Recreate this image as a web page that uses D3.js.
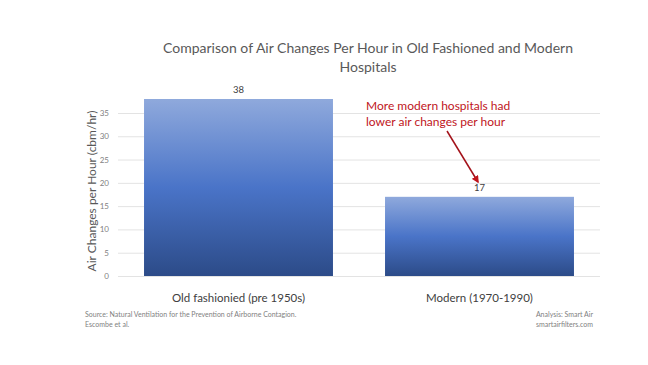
<!DOCTYPE html>
<html><head><meta charset="utf-8">
<script src="https://cdn.jsdelivr.net/npm/d3@7"></script>
<style>body{margin:0;background:#fff}svg{display:block}text{font-family:Lato,"Open Sans",sans-serif}</style>
</head><body><svg id="c" width="648" height="365"></svg>
<script>
const categories = ["Old fashionied (pre 1950s)", "Modern (1970-1990)"];
const values = [38, 17];
const yTicks = [0, 5, 10, 15, 20, 25, 30, 35];
const titleLines = ["Comparison of Air Changes Per Hour in Old Fashioned and Modern", "Hospitals"];
const yTitle = "Air Changes per Hour (cbm/hr)";
const annotation = ["More modern hospitals had", "lower air changes per hour"];
const sourceLines = ["Source: Natural Ventilation for the Prevention of Airborne Contagion.", "Escombe et al."];
const analysisLines = ["Analysis: Smart Air", "smartairfilters.com"];

const svg = d3.select("#c");
const m = {l:118, r:600, t:99, b:276};
const x = d3.scaleBand().domain(categories).range([m.l, m.r]).paddingInner(0.216).paddingOuter(0.108);
const y = d3.scaleLinear().domain([0, 38]).range([m.b, m.t]);

const defs = svg.append("defs");
const g = defs.append("linearGradient").attr("id","bg").attr("x1",0).attr("y1",0).attr("x2",0).attr("y2",1);
g.append("stop").attr("offset","0%").attr("stop-color","#8fa9dc");
g.append("stop").attr("offset","50%").attr("stop-color","#4a74c8");
g.append("stop").attr("offset","100%").attr("stop-color","#2c4b88");
const mk = defs.append("marker").attr("id","ah").attr("viewBox","0 0 10 10").attr("refX",8).attr("refY",5)
  .attr("markerWidth",5).attr("markerHeight",5).attr("orient","auto");
mk.append("path").attr("d","M0,0L10,5L0,10z").attr("fill","#c0151c");

// title
svg.append("g").selectAll("text").data(titleLines).join("text")
  .attr("x",368).attr("y",(d,i)=>53+i*19).attr("text-anchor","middle")
  .attr("font-size",14).attr("fill","#595959").text(d=>d);

// grid + axis
const ya = d3.axisLeft(y).tickValues(yTicks).tickSize(-(m.r-m.l)).tickPadding(9);
const ag = svg.append("g").attr("transform",`translate(${m.l},0)`).call(ya);
ag.select(".domain").remove();
ag.selectAll("line").attr("stroke","#e3e3e3").attr("stroke-width",1);
ag.selectAll("text").attr("font-size",8).attr("fill","#7f7f7f").attr("font-family","Lato,sans-serif");

// y title
svg.append("text").attr("transform","translate(96,191) rotate(-90)").attr("text-anchor","middle")
  .attr("font-size",12).attr("fill","#595959").text(yTitle);

// bars
svg.append("g").selectAll("rect").data(values).join("rect")
  .attr("x",(d,i)=>x(categories[i])).attr("width",x.bandwidth())
  .attr("y",d=>y(d)).attr("height",d=>y(0)-y(d)).attr("fill","url(#bg)");

// value labels
svg.append("g").selectAll("text").data(values).join("text")
  .attr("x",(d,i)=>x(categories[i])+x.bandwidth()/2).attr("y",d=>y(d)-6)
  .attr("text-anchor","middle").attr("font-size",9.5).attr("fill","#404040").text(d=>d);

// category labels
svg.append("g").selectAll("text").data(categories).join("text")
  .attr("x",d=>x(d)+x.bandwidth()/2).attr("y",302).attr("text-anchor","middle")
  .attr("font-size",11.5).attr("fill","#404040").text(d=>d);

// annotation
svg.append("g").selectAll("text").data(annotation).join("text")
  .attr("x",366).attr("y",(d,i)=>110+i*16).attr("font-size",12).attr("fill","#c0151c").text(d=>d);
svg.append("line").attr("x1",447).attr("y1",131).attr("x2",478).attr("y2",182)
  .attr("stroke","#a3121a").attr("stroke-width",1.5).attr("marker-end","url(#ah)");

// footer
svg.append("g").selectAll("text").data(sourceLines).join("text")
  .attr("x",85).attr("y",(d,i)=>317+i*10).attr("font-size",7).attr("fill","#7f7f7f").text(d=>d);
svg.append("g").selectAll("text").data(analysisLines).join("text")
  .attr("x",593).attr("y",(d,i)=>317+i*10).attr("text-anchor","end").attr("font-size",7).attr("fill","#7f7f7f").text(d=>d);
</script></body></html>
